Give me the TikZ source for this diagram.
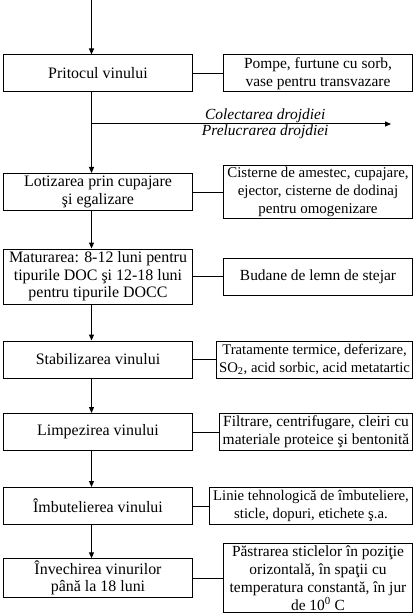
\documentclass[tikz,border=0pt]{standalone}
\usepackage{fontspec}
\setmainfont{Liberation Serif}
\usetikzlibrary{arrows.meta,positioning,calc}
\tikzset{
  stage/.style={draw=black, line width=1bp, align=center, inner sep=2pt, minimum width=189bp, minimum height=37bp, font=\fontsize{16}{17.5}\selectfont},
  tool/.style={draw=black, line width=1bp, align=center, inner sep=2pt, minimum height=37bp, anchor=east, font=\fontsize{15.5}{18}\selectfont},
  arrow/.style={-{Triangle[length=6bp,width=5bp]}, line width=1bp},
  link/.style={line width=1bp},
  lbl/.style={font=\fontsize{15.5}{18}\selectfont\itshape, inner sep=0.5pt}
}
\begin{document}
\begin{tikzpicture}[x=1bp, y=-1bp]
\useasboundingbox (0,0) rectangle (416,616);
% main flow line
\coordinate (spine) at (91.5,0);
% process stages
\node[stage] (pritoc) at (98,73.5) {Pritocul vinului};
\node[stage] (lotiz) at (98,192) {Lotizarea prin cupajare\\şi egalizare};
\node[stage, minimum height=55bp] (matur) at (98,276.5) {Maturarea: 8-12 luni pentru\\tipurile DOC şi 12-18 luni\\pentru tipurile DOCC};
\node[stage] (stabil) at (98,359.5) {Stabilizarea vinului};
\node[stage] (limpez) at (98,432) {Limpezirea vinului};
\node[stage] (imbut) at (98,506) {Îmbutelierea vinului};
\node[stage] (invech) at (98,578) {Învechirea vinurilor\\până la 18 luni};
% equipment and materials
\node[tool, minimum width=189bp] (pompe) at (413,73.5) {Pompe, furtune cu sorb,\\vase pentru transvazare};
\node[tool, minimum width=189bp, font=\fontsize{15}{18}\selectfont] (cisterne) at (413,192) {Cisterne de amestec, cupajare,\\ejector, cisterne de dodinaj\\pentru omogenizare};
\node[tool, minimum width=189bp] (budane) at (413,276.5) {Budane de lemn de stejar};
\node[tool, minimum width=196bp, font=\fontsize{14.8}{18}\selectfont] (tratam) at (413,359.5) {Tratamente termice, deferizare,\\SO\textsubscript{2}, acid sorbic, acid metatartic};
\node[tool, minimum width=193bp] (filtr) at (413,432) {Filtrare, centrifugare, cleiri cu\\materiale proteice şi bentonită};
\node[tool, minimum width=203bp, font=\fontsize{14.8}{18}\selectfont] (linie) at (413,506) {Linie tehnologică de îmbuteliere,\\sticle, dopuri, etichete ş.a.};
\node[tool, minimum width=189bp] (pastr) at (413,578) {Păstrarea sticlelor în poziţie\\orizontală, în spaţii cu\\temperatura constantă, în jur\\de 10\textsuperscript{0} C};
% arrows down the flow
\draw[arrow] (spine) -- (pritoc.north -| spine);
\foreach \a/\b in {pritoc/lotiz, lotiz/matur, matur/stabil, stabil/limpez, limpez/imbut, imbut/invech}
  \draw[arrow] (\a.south -| spine) -- (\b.north -| spine);
% yeast branch
\coordinate (drojdie) at (391,124);
\draw[arrow] (drojdie -| spine) -- node[lbl, pos=0.58, above] (colect) {Colectarea drojdiei}
  node[lbl, pos=0.58, below] (prelucr) {Prelucrarea drojdiei} (drojdie);
% links to equipment
\foreach \a/\b in {pritoc/pompe, lotiz/cisterne, matur/budane, stabil/tratam, limpez/filtr, imbut/linie, invech/pastr}
  \draw[link] (\a) -- (\b);
\end{tikzpicture}
\end{document}
